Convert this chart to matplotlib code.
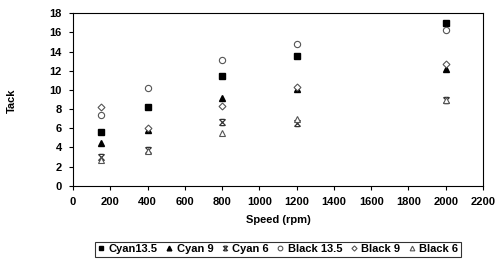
import matplotlib.pyplot as plt
from matplotlib.path import Path

plt.rcParams["font.family"] = ["Liberation Sans", "DejaVu Sans"]
plt.rcParams["font.weight"] = "bold"

speed = [150, 400, 800, 1200, 2000]
cyan_135 = [5.6, 8.25, 11.45, 13.5, 17.0]
cyan_9 = [4.45, 5.85, 9.2, 10.1, 12.2]
cyan_6 = [3.0, 3.7, 6.7, 6.6, 8.9]
black_135 = [7.4, 10.2, 13.15, 14.8, 16.3]
black_9 = [8.2, 6.0, 8.3, 10.3, 12.7]
black_6 = [2.7, 3.6, 5.5, 7.0, 8.95]

# excel-style "star": an x with bars on top and bottom
star = Path([(-1, 1), (1, -1), (-1, -1), (1, 1), (-0.7, 1), (0.7, 1), (-0.7, -1), (0.7, -1)],
            [Path.MOVETO, Path.LINETO] * 4)

fig = plt.figure(figsize=(5, 2.65), dpi=100)
ax = fig.add_axes([0.146, 0.299, 0.82, 0.651])

ax.plot(speed, cyan_135, ls="none", marker="s", ms=4.5, color="black", label="Cyan13.5")
ax.plot(speed, cyan_9, ls="none", marker="^", ms=4.5, color="black", label="Cyan 9")
ax.plot(speed, cyan_6, ls="none", marker=star, ms=4.5, color="#333333", mew=0.9, label="Cyan 6")
ax.plot(speed, black_135, ls="none", marker="o", ms=4.5, mfc="white", mec="#555555", mew=0.8, label="Black 13.5")
ax.plot(speed, black_9, ls="none", marker="D", ms=3.5, mfc="white", mec="#555555", mew=0.8, label="Black 9")
ax.plot(speed, black_6, ls="none", marker="^", ms=4.5, mfc="white", mec="#555555", mew=0.8, label="Black 6")

ax.set_xlim(0, 2200)
ax.set_ylim(0, 18)
ax.set_xticks(range(0, 2201, 200))
ax.set_yticks(range(0, 19, 2))
ax.tick_params(labelsize=8, length=3, width=0.8, pad=5)
for s in ax.spines.values():
    s.set_linewidth(0.8)

ax.set_xlabel("Speed (rpm)", fontsize=8, fontweight="bold", labelpad=6)
fig.text(0.024, 0.62, "Tack", rotation=90, fontsize=8, fontweight="bold", va="center", ha="center")

leg = fig.legend(loc="center", bbox_to_anchor=(0.556, 0.059), ncol=6, fontsize=8,
                 frameon=True, fancybox=False, edgecolor="black", handlelength=0.6,
                 handletextpad=0.35, columnspacing=0.75, borderpad=0.25, markerscale=0.75)
leg.get_frame().set_linewidth(0.8)

fig.savefig("out.png", dpi=100)
